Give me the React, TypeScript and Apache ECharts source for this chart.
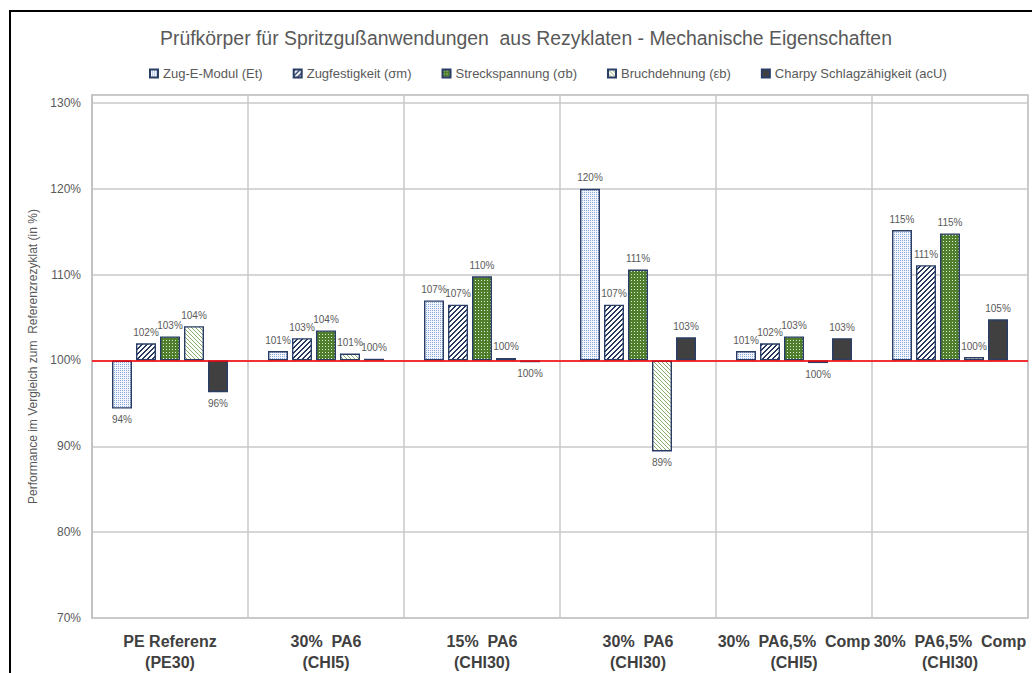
import React, { useEffect, useRef } from 'react';
import * as echarts from 'echarts';

const titleText = 'Prüfkörper für Spritzgußanwendungen  aus Rezyklaten - Mechanische Eigenschaften';
const yAxisName = 'Performance im Vergleich zum  Referenzrezyklat (in %)';
const categories = [
  'PE Referenz\n(PE30)',
  '30%  PA6\n(CHI5)',
  '15%  PA6\n(CHI30)',
  '30%  PA6\n(CHI30)',
  '30%  PA6,5%  Comp\n(CHI5)',
  '30%  PA6,5%  Comp\n(CHI30)',
];
const seriesNames = [
  'Zug-E-Modul (Et)',
  'Zugfestigkeit (σm)',
  'Streckspannung (σb)',
  'Bruchdehnung (εb)',
  'Charpy Schlagzähigkeit (acU)',
];
const zugEModul = [94.4, 101.1, 107.0, 120.0, 101.1, 115.2];
const zugfestigkeit = [102.0, 102.6, 106.5, 106.5, 102.0, 111.1];
const streckspannung = [102.8, 103.5, 109.8, 110.6, 102.8, 114.8];
const bruchdehnung = [104.0, 100.8, 100.3, 89.4, 99.7, 100.4];
const charpy = [96.3, 100.2, 99.8, 102.7, 102.6, 104.8];
const seriesValues = [zugEModul, zugfestigkeit, streckspannung, bruchdehnung, charpy];
const baseline = 100;
const yMin = 70;
const yMax = 130;
const yStep = 10;

const FONT = '"Liberation Sans", Arial, sans-serif';

function makePattern(w: number, h: number, bg: string, fg: string, on: (x: number, y: number) => boolean) {
  const c = document.createElement('canvas');
  c.width = w;
  c.height = h;
  const ctx = c.getContext('2d')!;
  ctx.fillStyle = bg;
  ctx.fillRect(0, 0, w, h);
  ctx.fillStyle = fg;
  for (let y = 0; y < h; y++) {
    for (let x = 0; x < w; x++) {
      if (on(x, y)) ctx.fillRect(x, y, 1, 1);
    }
  }
  return { image: c.toDataURL(), repeat: 'repeat', imageWidth: w, imageHeight: h } as any;
}

export default function App() {
  const ref = useRef<HTMLDivElement>(null);
  useEffect(() => {
    document.body.style.margin = '0';
    const chart = echarts.init(ref.current!, null, { renderer: 'svg' });
    const fills = [
      makePattern(4, 4, '#f2f6fc', '#8aa8dc', (x, y) => (x % 2 === 0 && y % 2 === 0)),
      makePattern(5, 5, '#ffffff', '#26395f', (x, y) => (x + y) % 5 === 0 || (x + y) % 5 === 1),
      makePattern(3, 3, '#4f7f2d', '#dfead3', (x, y) => x === 1 && y === 1),
      makePattern(4, 4, '#ffffff', '#86ad66', (x, y) => (x - y + 8) % 4 === 0),
      '#404040',
    ];
    const series: any[] = seriesValues.map((vals, i) => ({
      name: seriesNames[i],
      type: 'bar',
      barWidth: 20,
      barGap: '20%',
      itemStyle: { color: fills[i], borderColor: '#2a3d66', borderWidth: 1.4 },
      label: {
        show: true,
        distance: 6,
        fontSize: 10,
        color: '#595959',
        fontFamily: FONT,
        formatter: (p: any) => Math.round(p.value + baseline) + '%',
      },
      data: vals.map((v) => ({
        value: v - baseline,
        label: { position: v >= baseline ? 'top' : 'bottom' },
      })),
      ...(i === 0
        ? {
            markLine: {
              silent: true,
              symbol: 'none',
              label: { show: false },
              lineStyle: { color: '#ff0000', width: 1.5, type: 'solid' },
              data: [{ yAxis: 0 }],
              z: 10,
            },
          }
        : {}),
    }));
    chart.setOption({
      animation: false,
      textStyle: { fontFamily: FONT },
      graphic: [
        {
          type: 'polyline',
          shape: { points: [[10, 690], [10, 11], [1032, 11]] },
          style: { stroke: '#000', lineWidth: 2, fill: 'none' },
        },
        {
          type: 'text',
          x: 526,
          y: 38,
          style: {
            text: titleText,
            fontSize: 19.4,
            fill: '#595959',
            fontFamily: FONT,
            align: 'center',
            verticalAlign: 'middle',
          },
        },
      ],
      legend: {
        top: 62,
        left: 144,
        icon: 'rect',
        itemWidth: 8,
        itemHeight: 8,
        itemGap: 30,
        textStyle: { fontSize: 13, color: '#595959', fontFamily: FONT },
        data: seriesNames,
      },
      grid: {
        left: 92,
        right: 7,
        top: 95,
        bottom: 54,
        show: true,
        borderColor: '#bfbfbf',
        borderWidth: 1.5,
      },
      xAxis: {
        type: 'category',
        data: categories,
        axisLine: { show: true, lineStyle: { color: '#bfbfbf', width: 1.5 } },
        axisTick: { show: false },
        splitLine: { show: true, interval: 0, lineStyle: { color: '#c8c8c8', width: 1.5 } },
        axisLabel: {
          interval: 0,
          margin: 13,
          fontSize: 16,
          fontWeight: 'bold',
          color: '#404040',
          lineHeight: 21,
          fontFamily: FONT,
        },
      },
      yAxis: {
        type: 'value',
        min: yMin - baseline,
        max: yMax - baseline + 0.93,
        interval: yStep,
        name: yAxisName,
        nameLocation: 'middle',
        nameGap: 40,
        nameTextStyle: { fontSize: 12, color: '#595959', fontFamily: FONT },
        axisLine: { show: true, lineStyle: { color: '#bfbfbf', width: 1.5 } },
        axisTick: { show: false },
        splitLine: { show: true, lineStyle: { color: '#c8c8c8', width: 1.5 } },
        axisLabel: {
          margin: 11,
          fontSize: 12,
          color: '#595959',
          fontFamily: FONT,
          formatter: (v: number) => {
            const r = Math.round(v);
            return Math.abs(v - r) < 0.01 && r % yStep === 0 ? r + baseline + '%' : '';
          },
        },
      },
      series,
    });
    return () => chart.dispose();
  }, []);
  return <div ref={ref} style={{ width: 1035, height: 673 }} />;
}
